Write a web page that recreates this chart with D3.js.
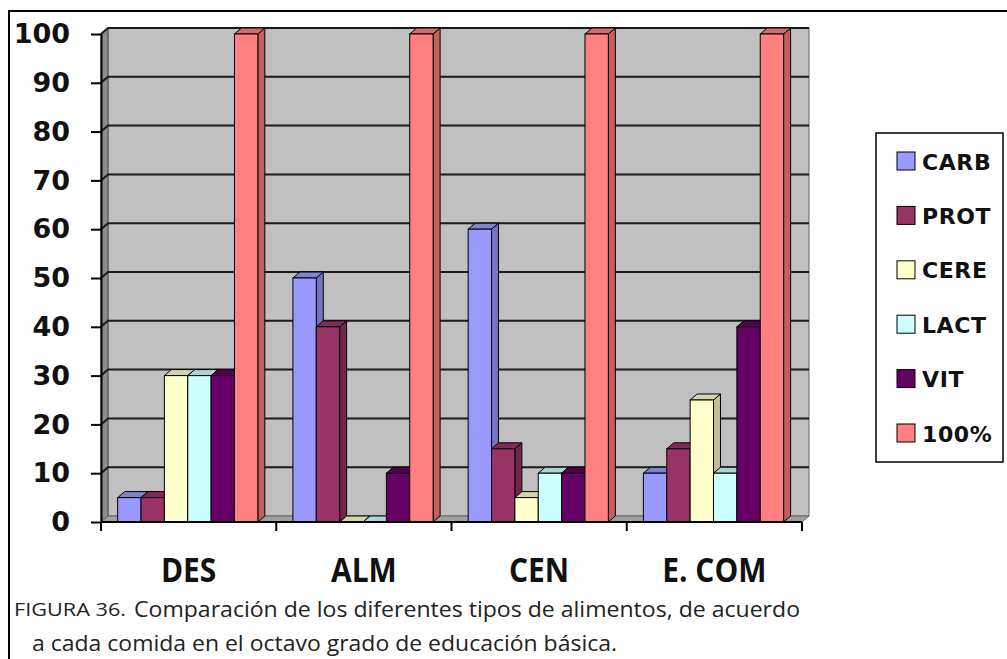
<!DOCTYPE html>
<html>
<head>
<meta charset="utf-8">
<script src="https://cdn.jsdelivr.net/npm/d3@7"></script>
<style>
body{margin:0;background:#fff;}
svg{display:block;}
</style>
</head>
<body>
<script>
// data
var categories = ['DES', 'ALM', 'CEN', 'E. COM'];
var seriesNames = ['CARB', 'PROT', 'CERE', 'LACT', 'VIT', '100%'];
var carb = [5, 50, 60, 10];
var prot = [5, 40, 15, 15];
var cere = [30, 0, 5, 25];
var lact = [30, 0, 10, 10];
var vit = [30, 10, 10, 40];
var total = [100, 100, 100, 100];
var yTicks = [0, 10, 20, 30, 40, 50, 60, 70, 80, 90, 100];
var seriesColors = ['#9999ff', '#993366', '#ffffcc', '#ccffff', '#660066', '#ff8080'];
var captionLabel = 'FIGURA 36.';
var captionLine1 = 'Comparación de los diferentes tipos de alimentos, de acuerdo';
var captionLine2 = 'a cada comida en el octavo grado de educación básica.';

window.onload = function(){

    var seriesValues = [carb, prot, cere, lact, vit, total];
    var svg = d3.select(document.body).append('svg')
        .attr('width', 1007).attr('height', 659);

    // 3D depth offset
    var dx = 7, dy = -6;

    var x = d3.scaleBand().domain(categories).range([101, 802]);
    var xs = d3.scaleBand().domain(seriesNames).range([x.bandwidth() * 0.095, x.bandwidth() * 0.895]);
    var y = d3.scaleLinear().domain([0, 100]).range([522, 34]);

    drawFrame();
    drawWalls();
    drawBars();
    drawAxes();
    drawLegend();
    drawCaption();

    /***********************************************/
    function drawFrame(){
        svg.append('path')
            .attr('d', 'M9,659 L9,11 L1007,11')
            .attr('fill', 'none').attr('stroke', '#000').attr('stroke-width', 2);
    }

    function drawWalls(){
        var x0 = x.range()[0], x1 = x.range()[1];
        var yTop = y(100), yBot = y(0);
        var g = svg.append('g');
        // back wall
        g.append('rect')
            .attr('x', x0 + dx).attr('y', yTop + dy)
            .attr('width', x1 - x0).attr('height', yBot - yTop)
            .attr('fill', '#c0c0c0').attr('stroke', '#666').attr('stroke-width', 1);
        // side wall
        g.append('path')
            .attr('d', 'M' + x0 + ',' + yTop + 'L' + (x0 + dx) + ',' + (yTop + dy) +
                'L' + (x0 + dx) + ',' + (yBot + dy) + 'L' + x0 + ',' + yBot + 'Z')
            .attr('fill', '#8c8c8c').attr('stroke', '#555').attr('stroke-width', 1);
        // floor
        g.append('path')
            .attr('d', 'M' + x0 + ',' + yBot + 'L' + (x0 + dx) + ',' + (yBot + dy) +
                'L' + (x1 + dx) + ',' + (yBot + dy) + 'L' + x1 + ',' + yBot + 'Z')
            .attr('fill', '#a0a0a0').attr('stroke', '#666').attr('stroke-width', 1);
        // gridlines
        g.selectAll('.grid').data(yTicks.filter(function(v){ return v > 0; })).enter()
            .append('path')
            .attr('d', function(v){
                return 'M' + x0 + ',' + y(v) + 'L' + (x0 + dx) + ',' + (y(v) + dy) +
                    'L' + (x1 + dx) + ',' + (y(v) + dy);
            })
            .attr('fill', 'none').attr('stroke', '#1a1a1a').attr('stroke-width', 2);
    }

    function drawBars(){
        var w = xs.bandwidth();
        var y0 = y(0);
        var g = svg.append('g');
        categories.forEach(function(cat, ci){
            seriesNames.forEach(function(name, si){
                var v = seriesValues[si][ci];
                var bx = x(cat) + xs(name);
                var by = y(v);
                var c = seriesColors[si];
                var bar = g.append('g');
                // side face
                bar.append('path')
                    .attr('d', 'M' + (bx + w) + ',' + by + 'L' + (bx + w + dx) + ',' + (by + dy) +
                        'L' + (bx + w + dx) + ',' + (y0 + dy) + 'L' + (bx + w) + ',' + y0 + 'Z')
                    .attr('fill', d3.color(c).darker(0.8))
                    .attr('stroke', '#000').attr('stroke-width', 1);
                // top face
                bar.append('path')
                    .attr('d', 'M' + bx + ',' + by + 'L' + (bx + dx) + ',' + (by + dy) +
                        'L' + (bx + w + dx) + ',' + (by + dy) + 'L' + (bx + w) + ',' + by + 'Z')
                    .attr('fill', d3.color(c).darker(0.5))
                    .attr('stroke', '#000').attr('stroke-width', 1);
                // front face
                bar.append('rect')
                    .attr('x', bx).attr('y', by)
                    .attr('width', w).attr('height', y0 - by)
                    .attr('fill', c)
                    .attr('stroke', '#000').attr('stroke-width', 1);
            });
        });
    }

    function drawAxes(){
        var yAxis = d3.axisLeft(y).tickValues(yTicks).tickSize(10).tickSizeOuter(0).tickPadding(21);
        var ya = svg.append('g').attr('transform', 'translate(' + x.range()[0] + ',0)').call(yAxis);
        ya.selectAll('path, line').attr('stroke', '#000').attr('stroke-width', 2);
        ya.selectAll('text')
            .attr('font-family', 'DejaVu Sans, Verdana, sans-serif')
            .attr('font-weight', 'bold').attr('font-size', 27).attr('fill', '#111');

        // category axis line and boundary ticks
        var bounds = categories.map(function(c){ return x(c); }).concat([x.range()[1]]);
        var xb = svg.append('g');
        xb.append('line')
            .attr('x1', x.range()[0]).attr('x2', x.range()[1])
            .attr('y1', y(0)).attr('y2', y(0))
            .attr('stroke', '#000').attr('stroke-width', 2);
        xb.selectAll('.tk').data(bounds).enter().append('line')
            .attr('x1', function(d){ return d; }).attr('x2', function(d){ return d; })
            .attr('y1', y(0)).attr('y2', y(0) + 9)
            .attr('stroke', '#000').attr('stroke-width', 2);

        var xAxis = d3.axisBottom(x).tickSize(0).tickPadding(36);
        var xa = svg.append('g').attr('transform', 'translate(0,' + y(0) + ')').call(xAxis);
        xa.select('.domain').remove();
        xa.selectAll('text')
            .attr('font-family', 'Open Sans, sans-serif')
            .attr('font-weight', 'bold').attr('font-size', 34).attr('fill', '#111')
            .attr('transform', 'scale(0.88,1)');
    }

    function drawLegend(){
        var g = svg.append('g');
        g.append('rect')
            .attr('x', 876).attr('y', 133).attr('width', 127).attr('height', 329)
            .attr('fill', '#fff').attr('stroke', '#000').attr('stroke-width', 1.5);
        var ly = d3.scalePoint().domain(seriesNames).range([161, 433]);
        var item = g.selectAll('.item').data(seriesNames).enter().append('g')
            .attr('transform', function(d){ return 'translate(897,' + ly(d) + ')'; });
        item.append('rect')
            .attr('x', 0).attr('y', -9).attr('width', 18).attr('height', 18)
            .attr('fill', function(d, i){ return seriesColors[i]; })
            .attr('stroke', '#000').attr('stroke-width', 1);
        item.append('text')
            .attr('x', 25).attr('y', 8.5)
            .attr('font-family', 'DejaVu Sans, Verdana, sans-serif')
            .attr('font-weight', 'bold').attr('font-size', 22).attr('fill', '#111')
            .attr('letter-spacing', 0.6)
            .text(function(d){ return d; });
    }

    function drawCaption(){
        var g = svg.append('g')
            .attr('font-family', 'Open Sans, sans-serif').attr('fill', '#222');
        g.append('text')
            .attr('x', 14).attr('y', 616).attr('font-size', 18)
            .attr('textLength', 112).attr('lengthAdjust', 'spacingAndGlyphs')
            .text(captionLabel);
        g.append('text')
            .attr('x', 134).attr('y', 617).attr('font-size', 22)
            .attr('textLength', 666).attr('lengthAdjust', 'spacingAndGlyphs')
            .text(captionLine1);
        g.append('text')
            .attr('x', 32).attr('y', 651).attr('font-size', 22)
            .attr('textLength', 585).attr('lengthAdjust', 'spacingAndGlyphs')
            .text(captionLine2);
    }
}
</script>
</body>
</html>
